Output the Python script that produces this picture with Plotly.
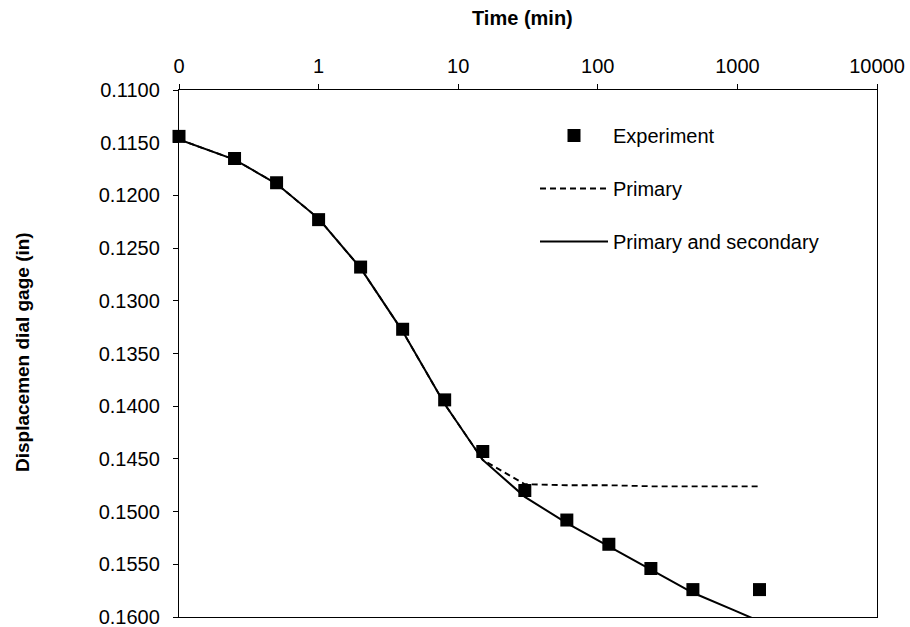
import plotly.graph_objects as go

# Time (min); t=0 is plotted at 0.1 on the log axis (label "0")
time_exp = [0.1, 0.25, 0.5, 1, 2, 4, 8, 15, 30, 60, 120, 240, 480, 1440]
disp_exp = [0.1144, 0.1165, 0.1188, 0.1223, 0.1268, 0.1327, 0.1394, 0.1443, 0.1480,
            0.1508, 0.1531, 0.1554, 0.1574, 0.1574]

time_prim = [0.1, 0.25, 0.5, 1, 2, 4, 8, 15, 30, 60, 120, 240, 480, 1440]
disp_prim = [0.1147, 0.1166, 0.1189, 0.1222, 0.1269, 0.1329, 0.1398, 0.1451, 0.1474,
             0.1475, 0.1475, 0.1476, 0.1476, 0.1476]

time_ps = [0.1, 0.25, 0.5, 1, 2, 4, 8, 15, 30, 60, 120, 240, 480, 960, 1440]
disp_ps = [0.1147, 0.1166, 0.1189, 0.1222, 0.1269, 0.1329, 0.1398, 0.1451, 0.1486,
           0.1511, 0.1533, 0.1555, 0.1577, 0.1594, 0.1604]

x_tickvals = [0.1, 1, 10, 100, 1000, 10000]
x_ticktext = ["0", "1", "10", "100", "1000", "10000"]

FONT = "Liberation Sans, Arial, sans-serif"
W, H = 910, 627
L, R, T, B = 179, 33, 90, 10
PW, PH = W - L - R, H - T - B

fig = go.Figure()
fig.add_trace(go.Scatter(x=time_exp, y=disp_exp, mode="markers", name="Experiment",
                         marker=dict(symbol="square", size=13, color="black"),
                         legendgroup="a", cliponaxis=False))
fig.add_trace(go.Scatter(x=time_prim, y=disp_prim, mode="lines", name="Primary",
                         line=dict(color="black", width=1.8, dash="6px,4px"),
                         legendgroup="b"))
fig.add_trace(go.Scatter(x=time_ps, y=disp_ps, mode="lines", name="Primary and secondary",
                         line=dict(color="black", width=2),
                         legendgroup="c"))

fig.update_layout(
    width=W, height=H,
    margin=dict(l=L, r=R, t=T, b=B),
    paper_bgcolor="white", plot_bgcolor="white",
    font=dict(family=FONT, size=20, color="black"),
    showlegend=True,
    legend=dict(x=(535 - L) / PW, y=1 - (116 - T) / PH,
                xanchor="left", yanchor="top", bgcolor="rgba(0,0,0,0)",
                itemwidth=68,
                font=dict(size=20), tracegroupgap=24, traceorder="grouped"),
    xaxis=dict(type="log", side="top", range=[-1, 4], tickvals=x_tickvals, ticktext=x_ticktext,
               showgrid=False, zeroline=False, showline=True, linecolor="black", linewidth=1.3,
               mirror=True, ticks="outside", ticklen=5, tickcolor="black", automargin=False,
               ticklabelstandoff=3, ticklabeloverflow="allow", tickfont=dict(size=20)),
    yaxis=dict(range=[0.16, 0.11], dtick=0.005, tick0=0.11, tickformat=".4f",
               showgrid=False, zeroline=False, showline=True, linecolor="black", linewidth=1.3,
               mirror=True, ticks="outside", ticklen=5, tickcolor="black", automargin=False,
               ticklabelstandoff=9, ticklabeloverflow="allow", tickfont=dict(size=20)),
    annotations=[
        dict(text="<b>Time (min)</b>", xref="paper", yref="paper",
             x=(522 - L) / PW, y=1 + (T - 18) / PH,
             showarrow=False, xanchor="center", yanchor="middle", font=dict(size=20)),
        dict(text="<b>Displacemen dial gage (in)</b>", xref="paper", yref="paper",
             x=(23 - L) / PW, y=1 - (352 - T) / PH,
             showarrow=False, xanchor="center", yanchor="middle", textangle=-90,
             font=dict(size=19)),
    ],
)

fig.write_html("out.html")
